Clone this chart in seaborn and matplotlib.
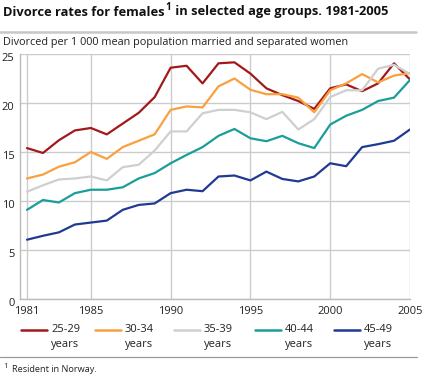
import matplotlib
matplotlib.use("Agg")
import matplotlib.pyplot as plt
import seaborn as sns
import pandas as pd
import numpy as np
from matplotlib.lines import Line2D
from matplotlib.transforms import ScaledTranslation

years = list(range(1981, 2006))
age_groups = ["25-29 years", "30-34 years", "35-39 years", "40-44 years", "45-49 years"]

rate_25_29 = [15.4, 14.9, 16.2, 17.2, 17.45, 16.8, 17.9, 19.0, 20.6, 23.6, 23.8, 22.0, 24.05, 24.15,
              23.0, 21.5, 20.8, 20.2, 19.4, 21.5, 21.9, 21.2, 22.0, 24.05, 22.4]
rate_30_34 = [12.3, 12.7, 13.5, 13.95, 15.0, 14.3, 15.5, 16.15, 16.8, 19.3, 19.65, 19.55, 21.7, 22.5,
              21.35, 20.9, 20.9, 20.55, 19.05, 21.3, 22.0, 22.95, 22.1, 22.8, 23.05]
rate_35_39 = [10.95, 11.6, 12.2, 12.3, 12.5, 12.1, 13.45, 13.7, 15.15, 17.1, 17.1, 18.95, 19.3, 19.3,
              19.05, 18.35, 19.1, 17.3, 18.35, 20.6, 21.3, 21.3, 23.5, 23.9, 22.95]
rate_40_44 = [9.1, 10.1, 9.85, 10.8, 11.15, 11.15, 11.4, 12.3, 12.85, 13.85, 14.7, 15.5, 16.65, 17.35,
              16.4, 16.1, 16.65, 15.9, 15.4, 17.8, 18.7, 19.3, 20.2, 20.55, 22.35]
rate_45_49 = [6.05, 6.45, 6.8, 7.6, 7.8, 8.0, 9.1, 9.6, 9.75, 10.8, 11.15, 11.0, 12.5, 12.6,
              12.1, 13.0, 12.25, 12.0, 12.5, 13.85, 13.55, 15.5, 15.8, 16.15, 17.3]

colors = ["#A3191B", "#F9A03F", "#CFCFCF", "#1A9E9B", "#203A94"]

x_ticks = [1981, 1985, 1990, 1995, 2000, 2005]
y_ticks = [0, 5, 10, 15, 20, 25]

title_main = "Divorce rates for females"
title_rest = " in selected age groups. 1981-2005"
subtitle = "Divorced per 1 000 mean population married and separated women"
footnote = "Resident in Norway."

series = [rate_25_29, rate_30_34, rate_35_39, rate_40_44, rate_45_49]
df = pd.DataFrame({
    "year": years * len(age_groups),
    "rate": [v for s in series for v in s],
    "group": [g for g in age_groups for _ in years],
})

sns.set_theme(style="white")
plt.rcParams["font.family"] = ["Open Sans", "DejaVu Sans"]
txt = "#222222"
grid_c = "#cccccc"

W, H = 424, 375
fig = plt.figure(figsize=(W / 100, H / 100), dpi=100)
fig.patch.set_facecolor("white")

def fx(px):
    return px / W

def fy(py):
    return 1 - py / H

ax_left, ax_right, ax_top, ax_bot = 20, 410, 54, 299
ax = fig.add_axes([fx(ax_left), fy(ax_bot), fx(ax_right - ax_left), (ax_bot - ax_top) / H])

sns.lineplot(data=df, x="year", y="rate", hue="group", palette=colors, hue_order=age_groups,
             linewidth=1.6, ax=ax, legend=False)

ax.set_xlim(1981 - 7 / 15.96, 2005)
ax.set_ylim(0, 25)
ax.set_xticks(x_ticks)
ax.set_xticks(years, minor=True)
ax.set_yticks(y_ticks)
ax.set_xlabel("")
ax.set_ylabel("")
ax.grid(True, which="major", color=grid_c, linewidth=1.0)
ax.set_axisbelow(True)
for s in ["top", "right"]:
    ax.spines[s].set_visible(False)
for s in ["left", "bottom"]:
    ax.spines[s].set_color("#bbbbbb")
    ax.spines[s].set_linewidth(1.0)
ax.tick_params(axis="x", which="both", direction="in", length=3.5, color="#bbbbbb",
               labelsize=8, labelcolor=txt, pad=5, width=0.8)
ax.tick_params(axis="y", which="both", length=0, labelsize=8, labelcolor=txt, pad=4)
for lab in ax.get_yticklabels():
    lab.set_transform(lab.get_transform() + ScaledTranslation(0, -3 / 100, fig.dpi_scale_trans))

# Title with superscript
fig.canvas.draw()
renderer = fig.canvas.get_renderer()
t1 = fig.text(fx(3), fy(12), title_main, fontsize=9.3, fontweight="bold", color="#111111",
              va="center", ha="left")
bb = t1.get_window_extent(renderer)
x1 = bb.x1 / W
t2 = fig.text(x1 + fx(0.5), fy(8), "1", fontsize=7, fontweight="bold", color="#111111",
              va="center", ha="left")
bb2 = t2.get_window_extent(renderer)
fig.text(bb2.x1 / W + fx(1), fy(12), title_rest, fontsize=9.3, fontweight="bold", color="#111111",
         va="center", ha="left")

fig.add_artist(Line2D([0, fx(416)], [fy(32), fy(32)], color="#c8c8c8", linewidth=1.8))
fig.text(fx(3), fy(43), subtitle, fontsize=7.8, color=txt, va="center", ha="left")

# Legend
leg_x = [21, 95, 174, 255, 334]
for xs, col, grp in zip(leg_x, colors, age_groups):
    fig.add_artist(Line2D([fx(xs), fx(xs + 26)], [fy(330), fy(330)], color=col, linewidth=1.8))
    a, b = grp.split(" ")
    fig.text(fx(xs + 30), fy(330), a, fontsize=8, color=txt, va="center", ha="left")
    fig.text(fx(xs + 30), fy(344), b, fontsize=8, color=txt, va="center", ha="left")

fig.add_artist(Line2D([0, fx(417)], [fy(357), fy(357)], color="#999999", linewidth=0.9))
fig.text(fx(3), fy(366), "1", fontsize=5.5, color=txt, va="center", ha="left")
fig.text(fx(12), fy(369), footnote, fontsize=6.6, color=txt, va="center", ha="left")

fig.savefig("out.png", dpi=100, facecolor="white")
